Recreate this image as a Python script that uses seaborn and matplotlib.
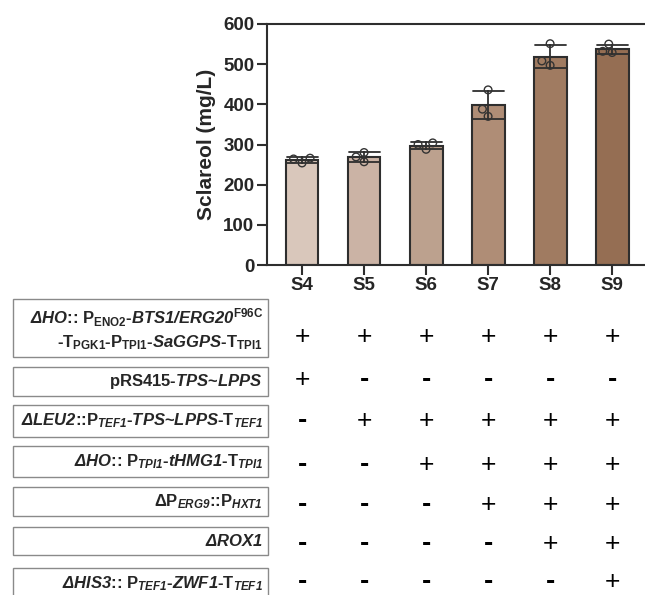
import numpy as np
import pandas as pd
import matplotlib
matplotlib.use('Agg')
import matplotlib.pyplot as plt
import matplotlib.transforms as mtransforms
from matplotlib.patches import Rectangle
import seaborn as sns

# data (three replicates per strain)
strains = ['S4', 'S5', 'S6', 'S7', 'S8', 'S9']
rep_a = [254, 280, 288, 436, 551, 550]
rep_b = [266, 257, 304, 388, 497, 529]
rep_c = [264, 269, 300, 370, 508, 532]
bar_colors = ['#DEC6B6', '#D1B29F', '#C49F86', '#B88B6D', '#AA7957', '#A06C48']

# \mathsf is mapped to bold italic below (so digits stay italic too)
genotype_labels = [
    [r'$\mathsf{ΔHO}$:: P$_\mathrm{ENO2}$-$\mathsf{BTS1/ERG20}^\mathrm{F96C}$',
     r'-T$_\mathrm{PGK1}$-P$_\mathrm{TPI1}$-$\mathsf{SaGGPS}$-T$_\mathrm{TPI1}$'],
    [r'pRS415-$\mathsf{TPS}$~$\mathsf{LPPS}$'],
    [r'$\mathsf{ΔLEU2}$::P$_{\mathsf{TEF1}}$-$\mathsf{TPS}$~$\mathsf{LPPS}$-T$_{\mathsf{TEF1}}$'],
    [r'$\mathsf{ΔHO}$:: P$_{\mathsf{TPI1}}$-$\mathsf{tHMG1}$-T$_{\mathsf{TPI1}}$'],
    [r'ΔP$_{\mathsf{ERG9}}$::P$_{\mathsf{HXT1}}$'],
    [r'$\mathsf{ΔROX1}$'],
    [r'$\mathsf{ΔHIS3}$:: P$_{\mathsf{TEF1}}$-$\mathsf{ZWF1}$-T$_{\mathsf{TEF1}}$'],
]
presence = [
    '++++++',
    '+-----',
    '-+++++',
    '--++++',
    '---+++',
    '----++',
    '-----+',
]

df = pd.DataFrame({
    'strain': strains * 3,
    'sclareol': rep_a + rep_b + rep_c,
})

sns.set_style('ticks')
plt.rcParams['font.family'] = ['Liberation Sans', 'DejaVu Sans']
plt.rcParams['mathtext.fontset'] = 'custom'
plt.rcParams['mathtext.rm'] = 'Liberation Sans:bold'
plt.rcParams['mathtext.it'] = 'Liberation Sans:bold:italic'
plt.rcParams['mathtext.sf'] = 'Liberation Sans:bold:italic'
plt.rcParams['mathtext.bf'] = 'Liberation Sans:bold'

W, H = 645, 595
fig = plt.figure(figsize=(W / 100, H / 100), dpi=100)
ax = fig.add_axes([267 / W, 1 - 265 / H, 1 - 267 / W, (265 - 24) / H])

dark = '#2e2e2e'
sns.barplot(data=df, x='strain', y='sclareol', hue='strain', palette=bar_colors,
            errorbar='sd', capsize=0.5, width=0.53, edgecolor=dark, linewidth=1.5,
            err_kws={'color': dark, 'linewidth': 1.3}, legend=False, ax=ax)
n_before = len(ax.collections)
sns.swarmplot(data=df, x='strain', y='sclareol', color='white', edgecolor='#333333',
              linewidth=1.0, size=5.5, ax=ax)
for c in ax.collections[n_before:]:
    c.set_facecolor('none')

ax.set_xlim(-0.565, 5.53)
ax.set_ylim(0, 600)
ax.set_yticks(range(0, 601, 100))
ax.spines['right'].set_visible(False)
for s in ['left', 'bottom', 'top']:
    ax.spines[s].set_linewidth(1.5)
    ax.spines[s].set_color(dark)
ax.tick_params(axis='both', labelsize=13.5, width=1.5, color=dark, length=7, pad=2)
for lbl in ax.get_xticklabels() + ax.get_yticklabels():
    lbl.set_fontweight('bold')
ax.set_xlabel('')
ax.set_ylabel('Sclareol (mg/L)', fontsize=15, fontweight='bold', labelpad=5)

# genotype table below the chart
box_top = [299, 367, 405, 446, 487, 527, 568]
box_bottom = [357, 396, 437, 477, 516, 555, 600]
sym_y = [337, 380, 421, 465, 505, 544, 582]
blend = mtransforms.blended_transform_factory(ax.transData, fig.transFigure)

for i, lines in enumerate(genotype_labels):
    t, b = box_top[i], box_bottom[i]
    fig.patches.append(Rectangle((13 / W, 1 - b / H), (268 - 13) / W, (b - t) / H,
                                 transform=fig.transFigure, fill=False,
                                 edgecolor='#8a8a8a', linewidth=1.0))
    if len(lines) == 2:
        ys = [318, 343]
    else:
        ys = [(t + b) / 2]
    for line, y in zip(lines, ys):
        fig.text(263 / W, 1 - y / H, line, ha='right', va='center',
                 fontsize=12, fontweight='bold')
    for j, sym in enumerate(presence[i]):
        if sym == '+':
            ax.text(j, 1 - sym_y[i] / H, '+', transform=blend, ha='center',
                    va='center', fontsize=19, color='black', clip_on=False)
        else:
            ax.text(j, 1 - sym_y[i] / H, '-', transform=blend, ha='center',
                    va='center', fontsize=20, fontweight='bold', color='black',
                    clip_on=False)

fig.savefig('out.png', dpi=100)
